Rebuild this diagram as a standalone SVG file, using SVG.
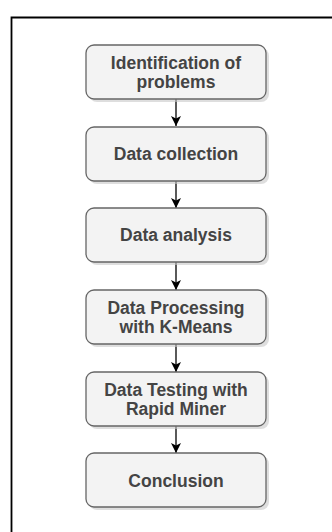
<svg xmlns="http://www.w3.org/2000/svg" width="332" height="532" viewBox="0 0 332 532">
<defs>
<style>
.box{fill:#f3f3f3;stroke:#666;stroke-width:1.3}
.sh{fill:#c8c8c8;opacity:0.6}
.t{font-family:"Liberation Sans",Arial,sans-serif;font-weight:bold;font-size:17.5px;fill:#444;text-anchor:middle}
.c{stroke:#000;stroke-width:1.3;fill:none}
</style>
<marker id="ah" viewBox="0 0 10 10" refX="10" refY="5" markerWidth="10" markerHeight="10" markerUnits="userSpaceOnUse" orient="auto">
<path d="M0,0 L10,5 L0,10 L2.5,5 Z" fill="#000"/>
</marker>
</defs>
<rect width="332" height="532" fill="#fff"/>
<path d="M11.5,532 V17.5 H332" fill="none" stroke="#000" stroke-width="1.8"/>
<g id="connectors">
<line class="c" x1="176" y1="99" x2="176" y2="126" marker-end="url(#ah)"/>
<line class="c" x1="176" y1="181" x2="176" y2="208" marker-end="url(#ah)"/>
<line class="c" x1="176" y1="262" x2="176" y2="290" marker-end="url(#ah)"/>
<line class="c" x1="176" y1="344" x2="176" y2="372" marker-end="url(#ah)"/>
<line class="c" x1="176" y1="426" x2="176" y2="453" marker-end="url(#ah)"/>
</g>
<g id="n1">
<rect class="sh" x="89" y="48" width="180" height="54" rx="8"/>
<rect class="box" x="86" y="45" width="180" height="54" rx="8"/>
<text class="t" x="176" y="69">Identification of</text>
<text class="t" x="176" y="88">problems</text>
</g>
<g id="n2">
<rect class="sh" x="89" y="130" width="180" height="54" rx="8"/>
<rect class="box" x="86" y="127" width="180" height="54" rx="8"/>
<text class="t" x="176" y="160">Data collection</text>
</g>
<g id="n3">
<rect class="sh" x="89" y="211" width="180" height="54" rx="8"/>
<rect class="box" x="86" y="208" width="180" height="54" rx="8"/>
<text class="t" x="176" y="241">Data analysis</text>
</g>
<g id="n4">
<rect class="sh" x="89" y="293" width="180" height="54" rx="8"/>
<rect class="box" x="86" y="290" width="180" height="54" rx="8"/>
<text class="t" x="176" y="314">Data Processing</text>
<text class="t" x="176" y="333">with K-Means</text>
</g>
<g id="n5">
<rect class="sh" x="89" y="375" width="180" height="54" rx="8"/>
<rect class="box" x="86" y="372" width="180" height="54" rx="8"/>
<text class="t" x="176" y="396">Data Testing with</text>
<text class="t" x="176" y="415">Rapid Miner</text>
</g>
<g id="n6">
<rect class="sh" x="89" y="456" width="180" height="54" rx="8"/>
<rect class="box" x="86" y="453" width="180" height="54" rx="8"/>
<text class="t" x="176" y="487">Conclusion</text>
</g>
</svg>
